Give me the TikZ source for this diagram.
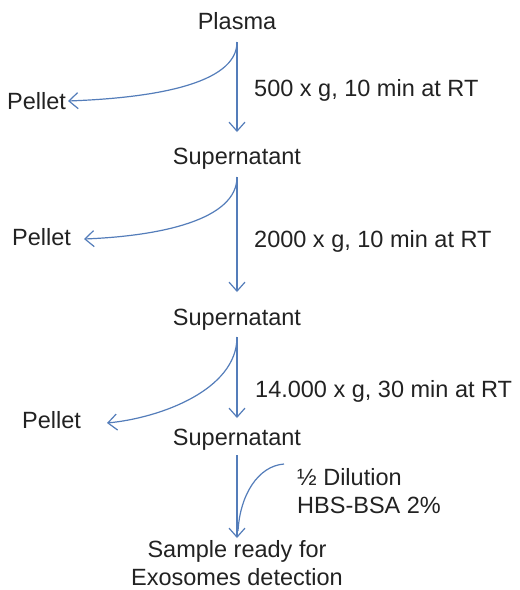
\documentclass[tikz,border=0pt]{standalone}
\usepackage{fontspec}
\setmainfont{Liberation Sans}
\usetikzlibrary{arrows.meta}
\definecolor{arrowblue}{RGB}{84,125,186}
\definecolor{txt}{RGB}{34,34,34}
\begin{document}
\begin{tikzpicture}[x=1pt,y=-1pt,
  lbl/.style={inner sep=0pt,text=txt,font=\fontsize{23.5}{28}\selectfont},
  arr/.style={draw=arrowblue,line width=1.2pt,-{Straight Barb[length=9pt,width=16pt,line width=1.2pt]}},
  feed/.style={draw=arrowblue,line width=1.2pt}]
\useasboundingbox (0,0) rectangle (520,590);
\fill[white] (0,0) rectangle (520,590);
% main column
\node[lbl,anchor=base] (plasma) at (237,29) {Plasma};
\node[lbl,anchor=base] (sup1) at (237,164) {Supernatant};
\node[lbl,anchor=base] (sup2) at (237,325) {Supernatant};
\node[lbl,anchor=base] (sup3) at (237,445) {Supernatant};
\node[lbl,anchor=base,align=center] (final) at (237,585) {Sample ready for\\Exosomes detection};
% pellets
\node[lbl,anchor=base west] (pel1) at (7,109) {Pellet};
\node[lbl,anchor=base west] (pel2) at (12,245) {Pellet};
\node[lbl,anchor=base west] (pel3) at (22,428) {Pellet};
% conditions
\node[lbl,anchor=base west] (lab1) at (254,96) {500 x g, 10 min at RT};
\node[lbl,anchor=base west] (lab2) at (254,247) {2000 x g, 10 min at RT};
\node[lbl,anchor=base west] (lab3) at (255,397) {14.000 x g, 30 min at RT};
\node[lbl,anchor=base west,align=left] (dil) at (297,513) {½ Dilution\\HBS-BSA 2\%};
% vertical arrows
\coordinate (s0) at (237,42);
\coordinate (e1) at (237,132);
\coordinate (s1) at (237,177);
\coordinate (e2) at (237,292);
\coordinate (s2) at (237,337);
\coordinate (e3) at (237,418);
\coordinate (s3) at (237,455);
\coordinate (e4) at (237,538);
\draw[arr] (s0) -- (e1);
\draw[arr] (s1) -- (e2);
\draw[arr] (s2) -- (e3);
\draw[arr] (s3) -- (e4);
% pellet arrows
\coordinate (p1) at (68,101);
\coordinate (p2) at (84,239);
\coordinate (p3) at (107,423);
\draw[arr] (s0) .. controls (237,85) and (150,98) .. (p1);
\draw[arr] (s1) .. controls (237,220) and (160,236) .. (p2);
\draw[arr] (s2) .. controls (237,390) and (160,418) .. (p3);
% dilution feed
\coordinate (d0) at (284,464);
\coordinate (d1) at (238,531);
\draw[feed] (d0) .. controls (258,466) and (240,495) .. (d1);
\end{tikzpicture}
\end{document}
